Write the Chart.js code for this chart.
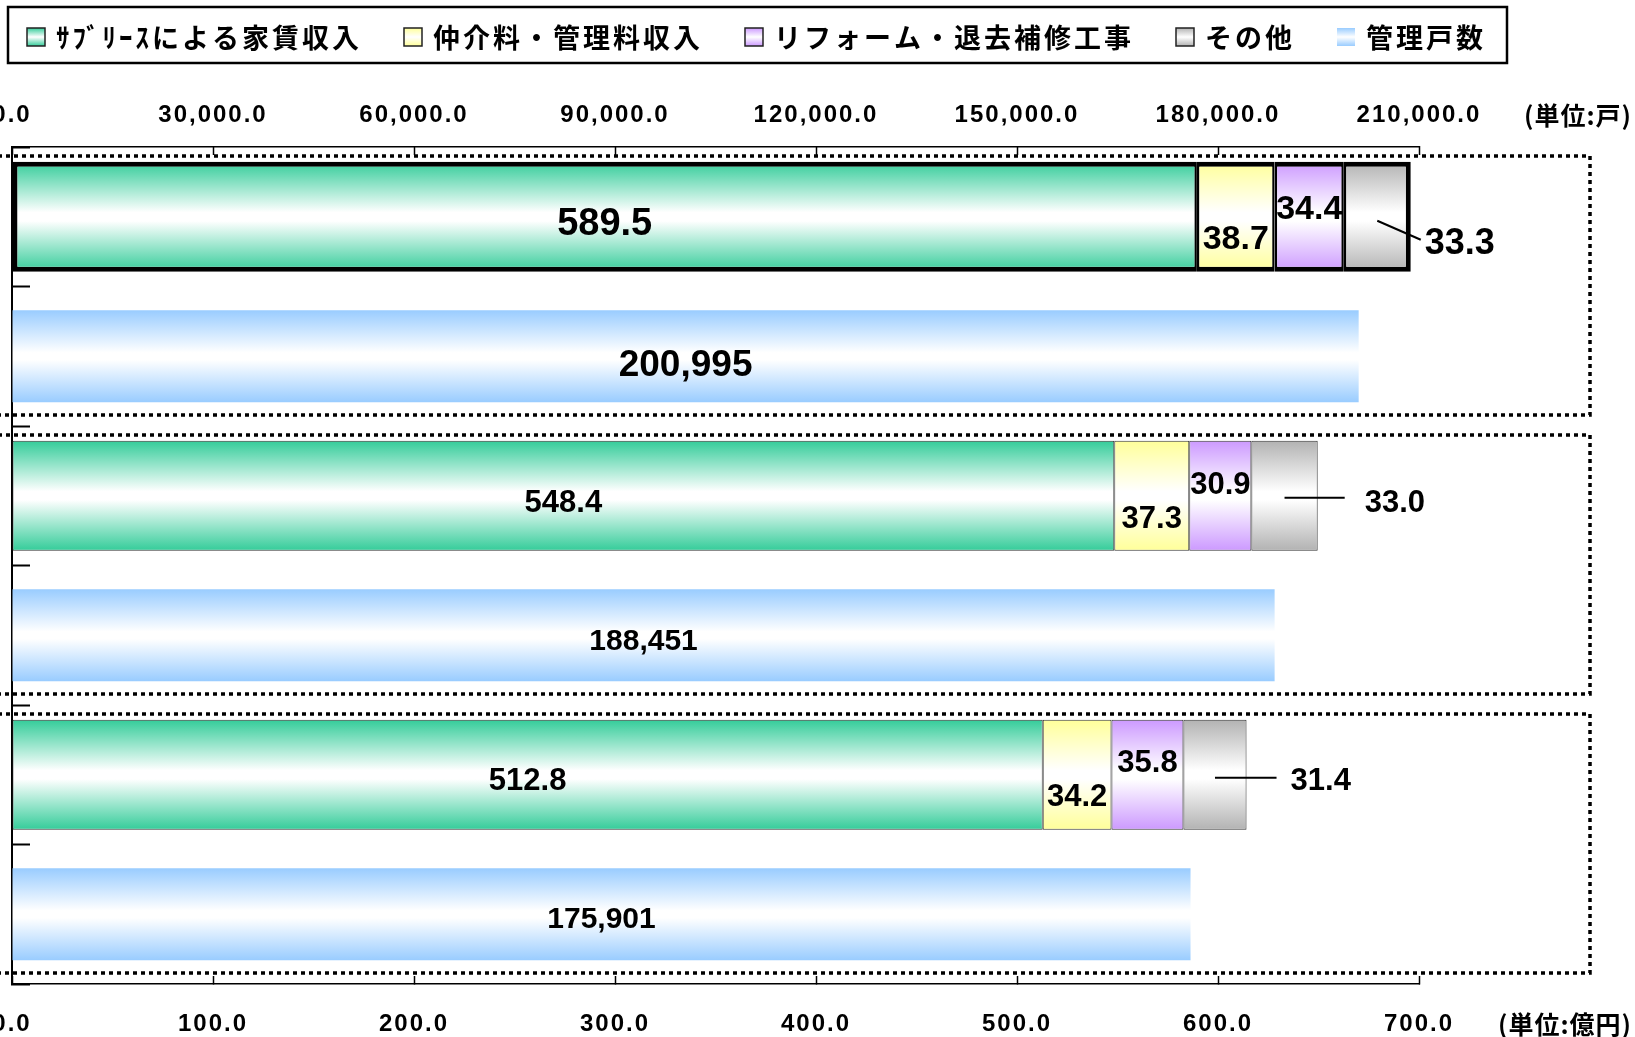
<!DOCTYPE html>
<html lang="ja">
<head>
<meta charset="utf-8">
<title>家賃収入と管理戸数</title>
<script src="https://cdn.jsdelivr.net/npm/chart.js@4.4.1/dist/chart.umd.min.js"></script>
<style>
  html, body { margin: 0; padding: 0; background: #fff; }
  .chart-container { position: relative; width: 1635px; height: 1037px; }
</style>
</head>
<body>
<div class="chart-container"><canvas id="revenue-chart"></canvas></div>
<script>
// 収入（億円）、上から3段
const subleaseRent = [589.5, 548.4, 512.8];
const brokerageFees = [38.7, 37.3, 34.2];
const reformWorks = [34.4, 30.9, 35.8];
const otherIncome = [33.3, 33.0, 31.4];
// 管理戸数（戸）
const managedUnits = [200995, 188451, 175901];

const seriesLabels = ['ｻﾌﾞﾘｰｽによる家賃収入', '仲介料・管理料収入', 'リフォーム・退去補修工事', 'その他', '管理戸数'];
const seriesColors = ['#33cc99', '#ffff99', '#cc99ff', '#b2b2b2', '#99ccff'];
const rowLabels = ['収入', '戸数', '収入', '戸数', '収入', '戸数'];
const revenueTicks = [0, 100, 200, 300, 400, 500, 600, 700];
const unitTicks = [0, 30000, 60000, 90000, 120000, 150000, 180000, 210000];
const revenueUnit = '(単位:億円)';
const countUnit = '(単位:戸)';

// label look per group (font size, vertical offset from bar centre)
const segFont = [[38, 34, 34, 36], [31, 31, 31, 31], [31, 31, 31, 31]];
const segDy = [[5, 20, -10, 24], [5, 21, -13, 5], [4, 20, -14, 4]];
const leader = [
  { dy0: 4, ex: 10, ey: 23, lx: 14 },
  { dy0: 2, ex: 27, ey: 2, lx: 47 },
  { dy0: 3, ex: 30, ey: 3, lx: 44 }
];
const unitFont = [37, 30, 30];
const unitDy = [7, 4, 3];

const onRevenueRows = vals => rowLabels.map((r, i) => (i % 2 === 0 ? vals[i / 2] : null));
const onUnitRows = vals => rowLabels.map((r, i) => (i % 2 === 1 ? vals[(i - 1) / 2] : null));
const fmt1 = v => v.toLocaleString('en-US', { minimumFractionDigits: 1, maximumFractionDigits: 1 });

function shade(color) {
  return ctx => {
    const chart = ctx.chart;
    const y = chart.scales.y;
    if (ctx.type !== 'data' || !y) return color;
    const row = y.getPixelForValue(1) - y.getPixelForValue(0);
    const half = row * ctx.dataset.barPercentage / 2;
    const mid = y.getPixelForValue(ctx.dataIndex);
    if (!isFinite(mid) || !isFinite(half)) return color;
    const g = chart.ctx.createLinearGradient(0, mid - half, 0, mid + half);
    g.addColorStop(0, color);
    g.addColorStop(0.46, '#ffffff');
    g.addColorStop(0.54, '#ffffff');
    g.addColorStop(1, color);
    return g;
  };
}

function segBorder(pos) {
  return ctx => {
    const big = ctx.dataIndex === 0;
    const edge = big ? 5 : 1;
    const inner = big ? 2.5 : 1;
    return {
      top: edge, bottom: edge,
      left: pos === 'first' ? edge : inner,
      right: pos === 'last' ? edge : inner
    };
  };
}

const revenueSeries = [subleaseRent, brokerageFees, reformWorks, otherIncome];
const datasets = revenueSeries.map((vals, i) => ({
  label: seriesLabels[i],
  data: onRevenueRows(vals),
  xAxisID: 'x',
  stack: 'row',
  barPercentage: 0.79,
  categoryPercentage: 1,
  backgroundColor: shade(seriesColors[i]),
  borderColor: ctx => (ctx.dataIndex === 0 ? '#000000' : '#333333'),
  borderWidth: segBorder(i === 0 ? 'first' : i === 3 ? 'last' : 'mid'),
  borderSkipped: false
}));
datasets.push({
  label: seriesLabels[4],
  data: onUnitRows(managedUnits),
  xAxisID: 'x2',
  stack: 'row',
  barPercentage: 0.66,
  categoryPercentage: 1,
  backgroundColor: shade(seriesColors[4]),
  borderWidth: 0
});

function drawNum(ctx, text, x, y, size, align) {
  ctx.font = `bold ${size}px "Liberation Sans", Arial, sans-serif`;
  ctx.textAlign = align;
  ctx.textBaseline = 'alphabetic';
  ctx.fillText(text, x, y + size * 0.358);
}

const decorations = {
  id: 'decorations',
  beforeDraw(chart) {
    chart.ctx.letterSpacing = '2px';
  },
  afterDatasetsDraw(chart) {
    const ctx = chart.ctx;
    const yS = chart.scales.y;
    const area = chart.chartArea;
    const rowH = yS.getPixelForValue(1) - yS.getPixelForValue(0);
    ctx.save();
    ctx.letterSpacing = '0px';
    ctx.fillStyle = '#000';
    ctx.strokeStyle = '#000';

    // segment labels
    for (let s = 0; s < 4; s++) {
      const meta = chart.getDatasetMeta(s);
      for (let g = 0; g < 3; g++) {
        const el = meta.data[g * 2];
        const { x, base, y } = el.getProps(['x', 'base', 'y'], true);
        const text = fmt1(revenueSeries[s][g]);
        if (s < 3) {
          drawNum(ctx, text, (x + base) / 2, y + segDy[g][s], segFont[g][s], 'center');
        } else {
          const L = leader[g];
          ctx.lineWidth = 2;
          ctx.beginPath();
          ctx.moveTo((x + base) / 2, y + L.dy0);
          ctx.lineTo(x + L.ex, y + L.ey);
          ctx.stroke();
          drawNum(ctx, text, x + L.lx, y + segDy[g][s], segFont[g][s], 'left');
        }
      }
    }
    // unit count labels
    const um = chart.getDatasetMeta(4);
    for (let g = 0; g < 3; g++) {
      const el = um.data[g * 2 + 1];
      const { x, base, y } = el.getProps(['x', 'base', 'y'], true);
      drawNum(ctx, managedUnits[g].toLocaleString('en-US'), (x + base) / 2, y + unitDy[g], unitFont[g], 'center');
    }

    // dotted group frames
    ctx.setLineDash([4, 4]);
    ctx.lineWidth = 3.5;
    for (let g = 0; g < 3; g++) {
      const top = yS.getPixelForValue(g * 2) - rowH / 2 + 9;
      const bottom = yS.getPixelForValue(g * 2 + 1) + rowH / 2 - 11;
      ctx.strokeRect(-10, top, area.right + 171 + 10, bottom - top);
    }
    ctx.restore();
  },
  afterDraw(chart) {
    const ctx = chart.ctx;
    const area = chart.chartArea;
    ctx.save();
    // legend
    ctx.font = 'bold 27px "Noto Sans CJK JP", sans-serif';
    ctx.letterSpacing = '3px';
    ctx.textBaseline = 'middle';
    ctx.textAlign = 'left';
    const boxTop = 28, box = 18, textY = 38;
    let x = 27;
    chart.data.datasets.forEach((ds, i) => {
      const g = ctx.createLinearGradient(0, boxTop, 0, boxTop + box);
      g.addColorStop(0, seriesColors[i]);
      g.addColorStop(0.5, '#ffffff');
      g.addColorStop(1, seriesColors[i]);
      ctx.fillStyle = g;
      ctx.fillRect(x, boxTop, box, box);
      if (i < 4) {
        ctx.strokeStyle = '#222';
        ctx.lineWidth = 1.5;
        ctx.strokeRect(x, boxTop, box, box);
      }
      ctx.fillStyle = '#000';
      ctx.fillText(ds.label, x + 29, textY);
      x += 29 + ctx.measureText(ds.label).width + 42;
    });
    ctx.strokeStyle = '#000';
    ctx.lineWidth = 2.5;
    ctx.strokeRect(8, 7, x - 42 + 21 - 8, 56);

    // unit captions
    ctx.font = 'bold 25px "Noto Sans CJK JP", sans-serif';
    ctx.letterSpacing = '1px';
    ctx.textAlign = 'right';
    ctx.fillText(countUnit, chart.width - 3, area.top - 32);
    ctx.fillText(revenueUnit, chart.width - 3, area.bottom + 40);
    ctx.restore();
  }
};

Chart.defaults.font.family = '"Liberation Sans", Arial, sans-serif';
Chart.defaults.font.weight = 'bold';
Chart.defaults.color = '#000';

const axisCommon = {
  stacked: true,
  grid: { drawOnChartArea: false, tickLength: -8, color: '#000', tickWidth: 1.5 },
  border: { display: true, color: '#000', width: 1.5 },
  ticks: { font: { size: 24, weight: 'bold', lineHeight: 1.2 }, autoSkip: false, maxRotation: 0, callback: v => fmt1(v) }
};

new Chart(document.getElementById('revenue-chart'), {
  type: 'bar',
  data: { labels: rowLabels, datasets },
  options: {
    indexAxis: 'y',
    responsive: true,
    maintainAspectRatio: false,
    animation: false,
    layout: { padding: { top: 0, right: 216, bottom: 0, left: 0 } },
    plugins: { legend: { display: false }, tooltip: { enabled: false } },
    scales: {
      y: {
        type: 'category',
        stacked: true,
        offset: true,
        grid: { offset: true, drawOnChartArea: false, tickLength: -18, color: '#000', tickWidth: 2 },
        border: { display: true, color: '#000', width: 2 },
        ticks: { display: false },
        afterFit: s => { s.width = 12; }
      },
      x: {
        ...axisCommon,
        position: 'bottom',
        min: 0, max: 700,
        ticks: { ...axisCommon.ticks, padding: 33.6 },
        afterBuildTicks: s => { s.ticks = revenueTicks.map(v => ({ value: v })); },
        afterFit: s => { s.height = 53; s.paddingLeft = 0; s.paddingRight = 0; }
      },
      x2: {
        ...axisCommon,
        position: 'top',
        min: 0, max: 210000,
        ticks: { ...axisCommon.ticks, padding: 25.6 },
        afterBuildTicks: s => { s.ticks = unitTicks.map(v => ({ value: v })); },
        afterFit: s => { s.height = 147; s.paddingLeft = 0; s.paddingRight = 0; }
      }
    }
  },
  plugins: [decorations]
});
</script>
</body>
</html>
